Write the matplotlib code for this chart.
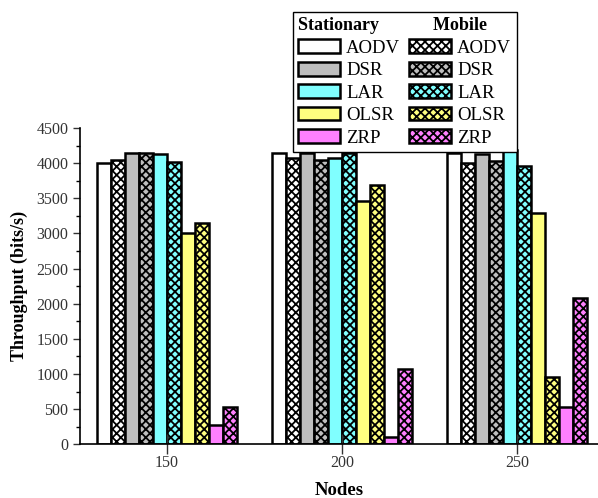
import numpy as np
import matplotlib.pyplot as plt
from matplotlib.patches import Patch
from matplotlib.ticker import MultipleLocator

plt.rcParams['font.family'] = ['Liberation Serif', 'DejaVu Serif']
plt.rcParams['hatch.linewidth'] = 1.3

# Data
nodes = [150, 200, 250]
protocols = ['AODV', 'DSR', 'LAR', 'OLSR', 'ZRP']
colors = ['#ffffff', '#bebebe', '#80ffff', '#ffff80', '#ff80ff']

stationary_aodv = [4000, 4150, 4150]
stationary_dsr = [4150, 4150, 4130]
stationary_lar = [4130, 4080, 4190]
stationary_olsr = [3000, 3460, 3290]
stationary_zrp = [270, 100, 530]

mobile_aodv = [4050, 4080, 4000]
mobile_dsr = [4150, 4050, 4030]
mobile_lar = [4010, 4150, 3960]
mobile_olsr = [3150, 3690, 960]
mobile_zrp = [530, 1070, 2080]

stationary = [stationary_aodv, stationary_dsr, stationary_lar, stationary_olsr, stationary_zrp]
mobile = [mobile_aodv, mobile_dsr, mobile_lar, mobile_olsr, mobile_zrp]

fig = plt.figure(figsize=(5.98, 4.98), dpi=100)
ax = fig.add_axes([0.134, 0.108, 0.866, 0.635])

x = np.array(nodes, dtype=float)
w = 4.0
for i, p in enumerate(protocols):
    ax.bar(x + (2 * i - 4.5) * w, stationary[i], w, color=colors[i],
           edgecolor='black', linewidth=1.8)
    ax.bar(x + (2 * i + 1 - 4.5) * w, mobile[i], w, color=colors[i],
           edgecolor='black', linewidth=1.8, hatch='xxxx')

ax.set_xlim(125.2, 273.2)
ax.set_ylim(0, 4500)
ax.set_xticks(nodes)
ax.yaxis.set_major_locator(MultipleLocator(500))
ax.yaxis.set_minor_locator(MultipleLocator(250))
ax.tick_params(axis='y', which='major', direction='out', length=5, width=1, labelsize=11.5, colors='#333333')
ax.tick_params(axis='y', which='minor', direction='out', length=3, width=1)
ax.tick_params(axis='x', direction='inout', length=14, width=1, pad=0.5, labelsize=11.5, colors='#333333')
for s in ['top', 'right']:
    ax.spines[s].set_visible(False)
for s in ['left', 'bottom']:
    ax.spines[s].set_linewidth(1.2)

ax.set_xlabel('Nodes', fontsize=13.5, fontweight='bold', labelpad=8)
ax.set_ylabel('Throughput (bits/s)', fontsize=13, fontweight='bold', labelpad=6)

handles = [Patch(facecolor=c, edgecolor='black', linewidth=1.8) for c in colors]
handles += [Patch(facecolor=c, edgecolor='black', linewidth=1.8, hatch='xxxx') for c in colors]
labels = protocols + protocols
leg = ax.legend(handles, labels, ncol=2, loc='upper left',
                fontsize=13.5, handlelength=2.2, handleheight=0.75, labelspacing=0.27,
                columnspacing=0.5, handletextpad=0.35, borderpad=0.28, borderaxespad=0,
                title='Stationary            Mobile', title_fontproperties={'weight': 'bold', 'size': 13},
                alignment='left', frameon=True, fancybox=False, edgecolor='black', framealpha=1)
leg.set_bbox_to_anchor((293 / 598, 1 - 12 / 498), transform=fig.transFigure)
leg.get_frame().set_linewidth(1.0)

plt.savefig('out.png', dpi=100)
